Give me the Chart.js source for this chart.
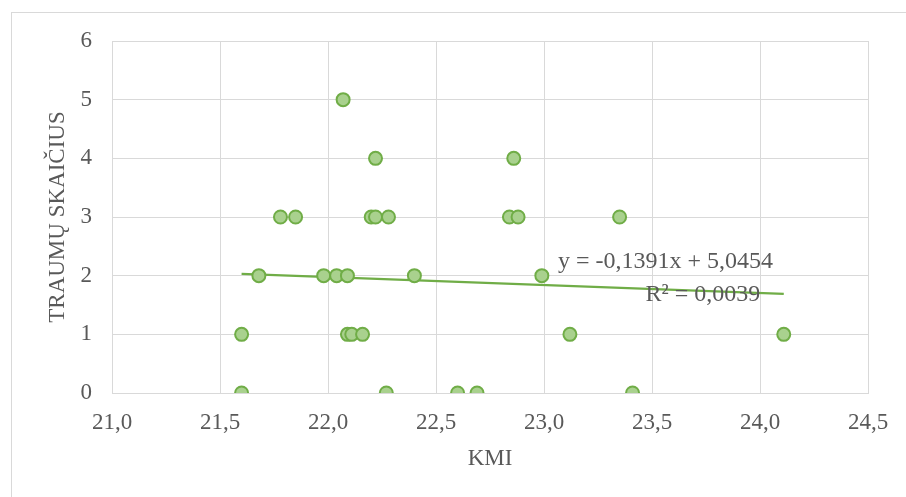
<!DOCTYPE html>
<html>
<head>
<meta charset="utf-8">
<script src="https://cdn.jsdelivr.net/npm/chart.js@4.4.1/dist/chart.umd.min.js"></script>
<style>
  html, body { margin: 0; padding: 0; background: #fff; }
  #wrap { position: relative; width: 906px; height: 497px; overflow: hidden; }
  #frame { position: absolute; left: 11px; top: 12px; width: 1000px; height: 600px; border: 1px solid #d9d9d9; box-sizing: border-box; }
  canvas { position: absolute; left: 0; top: 0; }
</style>
</head>
<body>
<div id="wrap">
  <div id="frame"></div>
  <canvas id="myChart" width="906" height="497"></canvas>
</div>
<script>
// DUOMENYS (KMI ir traumų skaičius)
const kmi = [
    21.60, 22.27, 22.60, 22.69, 23.41,
    21.60, 22.09, 22.11, 22.16, 23.12, 24.11,
    21.68, 21.98, 22.04, 22.09, 22.40, 22.99,
    21.78, 21.85, 22.20, 22.22, 22.28, 22.84, 22.88, 23.35,
    22.22, 22.86,
    22.07
];
const traumos = [
    0, 0, 0, 0, 0,
    1, 1, 1, 1, 1, 1,
    2, 2, 2, 2, 2, 2,
    3, 3, 3, 3, 3, 3, 3, 3,
    4, 4,
    5
];
// tendencijos linija (galai nuskaityti nuo paveikslo)
const trendX = [21.60, 24.11];
const trendY = [2.03, 1.69];
const lygtis = "y = -0,1391x + 5,0454";
const r2 = "R² = 0,0039";
// vieta duomenų vienetais
const lygtisPos = [23.065, 2.24];
const r2Pos = [23.47, 1.68];

const pilka = '#595959';
const srift = 'Liberation Serif, Times New Roman, serif';

const tekstoPluginas = {
    id: 'tekstas',
    afterDatasetsDraw(chart) {
        const ctx = chart.ctx;
        const x = chart.scales.x, y = chart.scales.y;
        ctx.save();
        ctx.fillStyle = pilka;
        ctx.font = '24px ' + srift;
        ctx.textBaseline = 'middle';
        ctx.textAlign = 'left';
        ctx.fillText(lygtis, x.getPixelForValue(lygtisPos[0]), y.getPixelForValue(lygtisPos[1]));
        ctx.fillText(r2, x.getPixelForValue(r2Pos[0]), y.getPixelForValue(r2Pos[1]));
        ctx.restore();
    }
};

const canvas = document.getElementById('myChart');
new Chart(canvas, {
    type: 'scatter',
    data: {
        datasets: [{
            label: 'Traumos',
            data: kmi.map((v, i) => ({ x: v, y: traumos[i] })),
            backgroundColor: '#a9d18e',
            borderColor: '#70ad47',
            borderWidth: 2,
            pointRadius: 6.5,
            order: 1
        },
        {
            type: 'line',
            label: 'Tendencija',
            data: trendX.map((v, i) => ({ x: v, y: trendY[i] })),
            borderColor: '#70ad47',
            borderWidth: 2.2,
            pointRadius: 0,
            fill: false,
            order: 2
        }]
    },
    options: {
        responsive: false,
        animation: false,
        layout: { padding: { top: 41, right: 38, left: 0, bottom: 0 } },
        plugins: {
            legend: { display: false },
            tooltip: { enabled: false }
        },
        scales: {
            x: {
                type: 'linear',
                min: 21, max: 24.5,
                grid: { color: '#d9d9d9', drawTicks: false },
                border: { color: '#d9d9d9' },
                ticks: {
                    stepSize: 0.5,
                    padding: 16,
                    color: pilka,
                    font: { family: srift, size: 23 },
                    callback: v => v.toFixed(1).replace('.', ',')
                },
                title: {
                    display: true, text: 'KMI', color: pilka,
                    font: { family: srift, size: 23 },
                    padding: { top: 0, bottom: 24 }
                },
                afterFit: s => { s.height = 497 - 393; }
            },
            y: {
                min: 0, max: 6,
                grid: { color: '#d9d9d9', drawTicks: false },
                border: { display: false },
                ticks: {
                    stepSize: 1,
                    padding: 20,
                    color: pilka,
                    font: { family: srift, size: 23 }
                },
                title: {
                    display: true, text: 'TRAUMŲ SKAIČIUS', color: pilka,
                    font: { family: srift, size: 23 },
                    padding: { top: 44, bottom: 0 }
                },
                afterFit: s => { s.width = 112; }
            }
        }
    },
    plugins: [tekstoPluginas]
});
</script>
</body>
</html>
